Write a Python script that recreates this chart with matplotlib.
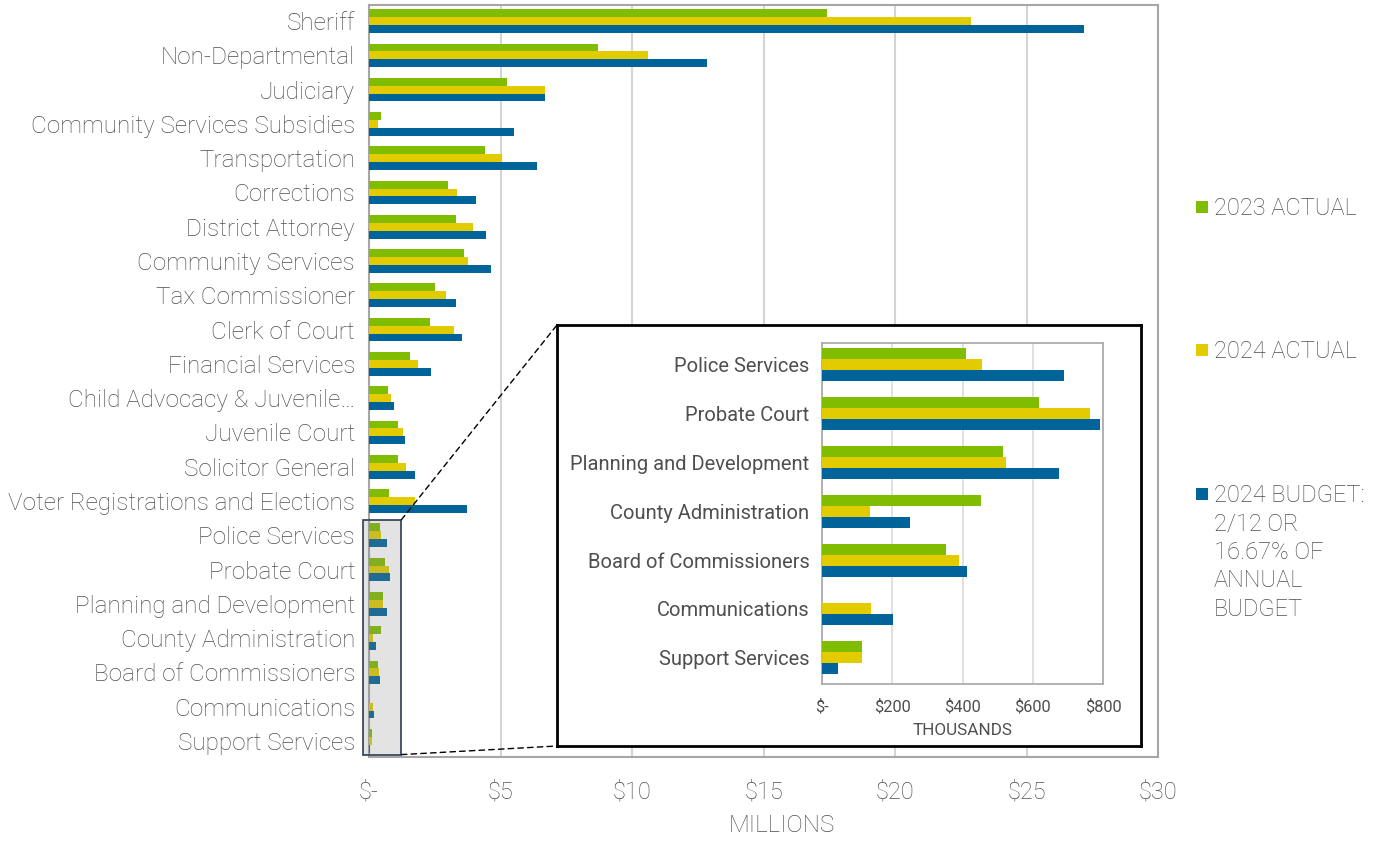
import matplotlib
matplotlib.use("Agg")
import matplotlib.pyplot as plt
import numpy as np
from matplotlib.patches import Rectangle, ConnectionPatch

plt.rcParams['font.family'] = ['Roboto', 'DejaVu Sans']

categories = ["Sheriff", "Non-Departmental", "Judiciary", "Community Services Subsidies",
              "Transportation", "Corrections", "District Attorney", "Community Services",
              "Tax Commissioner", "Clerk of Court", "Financial Services",
              "Child Advocacy & Juvenile\u2026", "Juvenile Court", "Solicitor General",
              "Voter Registrations and Elections", "Police Services", "Probate Court",
              "Planning and Development", "County Administration", "Board of Commissioners",
              "Communications", "Support Services"]

# values in millions of dollars
actual_2023 = [17.4, 8.7, 5.25, 0.44, 4.4, 3.0, 3.3, 3.6, 2.5, 2.33, 1.56, 0.71, 1.1, 1.1, 0.75,
               0.409, 0.617, 0.515, 0.454, 0.352, 0.0, 0.113]
actual_2024 = [22.9, 10.6, 6.7, 0.35, 5.06, 3.35, 3.95, 3.75, 2.93, 3.25, 1.85, 0.83, 1.29, 1.39, 1.75,
               0.456, 0.763, 0.525, 0.138, 0.389, 0.140, 0.113]
budget_2024 = [27.2, 12.85, 6.7, 5.5, 6.4, 4.07, 4.43, 4.63, 3.3, 3.52, 2.35, 0.95, 1.36, 1.76, 3.73,
               0.690, 0.791, 0.675, 0.251, 0.414, 0.202, 0.045]

series_labels = ["2023 ACTUAL", "2024 ACTUAL", "2024 BUDGET:\n2/12 OR\n16.67% OF\nANNUAL\nBUDGET"]
main_ticks = [0, 5, 10, 15, 20, 25, 30]
main_ticklabels = ["$-", "$5", "$10", "$15", "$20", "$25", "$30"]
inset_ticks = [0, 200, 400, 600, 800]
inset_ticklabels = ["$-", "$200", "$400", "$600", "$800"]
n_inset = 7

colors = ["#80BC00", "#E2CC00", "#00639A"]
TXT = "#4F4F4F"
GRID = "#D4D4D4"
FRAME = "#A6A6A6"

W, H = 1384, 841
fig = plt.figure(figsize=(W / 100, H / 100), dpi=100)

def rect(l, t, r, b):
    return [l / W, (H - b) / H, (r - l) / W, (b - t) / H]

ax = fig.add_axes(rect(369, 5, 1158, 757))
y = np.arange(len(categories))
bh = 0.23
series = [actual_2023, actual_2024, budget_2024]
for i, (vals, c) in enumerate(zip(series, colors)):
    ax.barh(y + (i - 1) * bh, vals, height=bh, color=c, zorder=3)
ax.set_xlim(0, 30)
ax.set_ylim(21.47, -0.47)
ax.set_yticks(y)
ax.set_yticklabels(categories, fontsize=17.5, color=TXT, fontweight='light')
ax.set_xticks(main_ticks)
ax.set_xticklabels(main_ticklabels, fontsize=17, color=TXT, fontweight='light')
ax.tick_params(axis='both', length=0)
ax.tick_params(axis='y', pad=10)
ax.tick_params(axis='x', pad=17)
ax.set_xlabel("MILLIONS", fontsize=17.5, color=TXT, fontweight='light')
ax.xaxis.set_label_coords(0.523, -0.076)
ax.grid(axis='x', color=GRID, linewidth=1.5, zorder=0)
ax.set_axisbelow(True)
for s in ax.spines.values():
    s.set_color(FRAME)
    s.set_linewidth(1.5)

# shaded highlight box over the small categories
hl = Rectangle((-0.22, 14.55), 1.45, 21.4 - 14.55, facecolor="#888888", alpha=0.23,
               edgecolor="none", zorder=5, clip_on=False)
ax.add_patch(hl)
hl_edge = Rectangle((-0.22, 14.55), 1.45, 21.4 - 14.55, facecolor="none",
                    edgecolor="#2B3B55", linewidth=1.2, zorder=6, clip_on=False)
ax.add_patch(hl_edge)

# inset frame
fax = fig.add_axes(rect(557, 325, 1141, 746))
fax.set_xticks([]); fax.set_yticks([])
fax.set_facecolor("white")
for s in fax.spines.values():
    s.set_color("black")
    s.set_linewidth(2)

# inset axes
iax = fig.add_axes(rect(822, 343, 1103, 684))
iy = np.arange(n_inset)
for i, (vals, c) in enumerate(zip(series, colors)):
    ivals = [v * 1000 for v in vals[-n_inset:]]
    iax.barh(iy + (i - 1) * 0.225, ivals, height=0.225, color=c, zorder=3)
iax.set_xlim(0, 800)
iax.set_ylim(6.54, -0.45)
iax.set_yticks(iy)
iax.set_yticklabels(categories[-n_inset:], fontsize=14.5, color=TXT)
iax.set_xticks(inset_ticks)
iax.set_xticklabels(inset_ticklabels, fontsize=11.8, color=TXT)
iax.tick_params(axis='both', length=0)
iax.tick_params(axis='y', pad=9)
iax.tick_params(axis='x', pad=11)
iax.set_xlabel("THOUSANDS", fontsize=12.3, color=TXT, labelpad=6)
iax.grid(axis='x', color="#DADADA", linewidth=1.2, zorder=0)
iax.set_axisbelow(True)
for s in iax.spines.values():
    s.set_color(FRAME)
    s.set_linewidth(1.2)

# dashed connector lines
for ya, yb in [(14.55, 1.0), (21.4, 0.0)]:
    cp = ConnectionPatch(xyA=(1.23, ya), coordsA=ax.transData, xyB=(0.0, yb), coordsB=fax.transAxes,
                         linestyle=(0, (4, 3)), color="black", linewidth=1.0, zorder=10)
    fig.add_artist(cp)

# legend
leg_y = [207, 350, 494]
for lab, c, yy in zip(series_labels, colors, leg_y):
    fig.patches.append(Rectangle(((1196) / W, (H - yy - 6) / H), 12 / W, 12 / H,
                                 transform=fig.transFigure, facecolor=c, edgecolor='none'))
    fig.text(1214 / W, (H - yy + 10) / H, lab, fontsize=17, color=TXT, va='top', ha='left',
             linespacing=1.3, fontweight='light')

fig.savefig("out.png", dpi=100)
